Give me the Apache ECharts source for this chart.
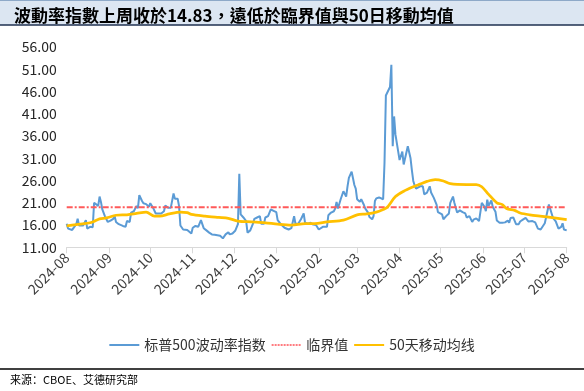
<!DOCTYPE html>
<html>
<head>
<meta charset="utf-8">
<script src="https://cdn.jsdelivr.net/npm/echarts@6/dist/echarts.min.js"></script>
<style>
html,body{margin:0;padding:0;background:#fff;}
#chart{width:584px;height:391px;}
</style>
</head>
<body>
<div id="chart"></div>
<script>
// ---- data ----
const titleText = '波動率指數上周收於14.83，遠低於臨界值與50日移動均值';
const sourceText = '来源：CBOE、艾德研究部';
const seriesNames = ['标普500波动率指数', '临界值', '50天移动均线'];
// x positions: days since 2024-08-01
const monthDays = [0, 31, 61, 92, 122, 153, 184, 212, 243, 273, 304, 334, 365];
const monthLabels = ['2024-08','2024-09','2024-10','2024-11','2024-12','2025-01','2025-02','2025-03','2025-04','2025-05','2025-06','2025-07','2025-08'];
const yTicks = [11, 16, 21, 26, 31, 36, 41, 46, 51, 56];
const criticalValue = 20;

const vixDay = [0,1,4,5,7,8,9,10,12,14,15,17,19,20,21,23,24,25,26,28,30,32,34,35,36,38,41,43,44,46,47,49,51,52,53,55,56,58,60,61,63,65,67,69,71,72,74,76,78,79,81,82,83,85,88,89,91,92,94,96,98,100,102,104,106,108,110,112,114,116,118,119,121,123,125,126,127,129,131,132,134,136,137,139,141,142,144,145,147,149,151,153,154,156,157,159,162,164,166,167,169,171,173,174,176,178,180,182,184,185,187,190,191,193,195,196,197,198,200,201,202,204,205,206,208,209,210,211,212,214,215,217,218,220,221,223,224,225,226,228,229,231,232,233,236,237,238,239,240,243,244,245,246,249,251,252,253,254,255,258,260,261,263,265,266,268,270,271,272,274,275,277,279,280,282,283,285,287,289,291,292,294,296,297,299,301,303,305,306,307,308,310,311,313,314,316,318,320,322,323,324,326,328,330,331,333,335,337,338,340,342,344,346,347,349,350,352,355,356,357,358,359,361,362,363,364,365];
const vixValue = [16.3,15.2,14.9,14.9,16.2,17.4,15.9,16.3,15.9,17.1,15.2,15.6,15.5,21.0,21.4,20.3,22.4,21.2,19.5,17.9,16.7,17.0,17.4,18.0,16.7,16.2,15.8,15.6,16.9,16.7,18.8,19.1,20.3,19.8,22.7,21.4,20.9,20.7,20.1,20.9,19.9,18.6,18.6,18.6,19.1,20.4,19.9,19.9,23.1,21.9,21.9,20.3,15.9,15.0,14.9,15.0,14.1,15.4,15.8,15.6,17.1,15.3,14.8,14.3,13.9,13.8,13.7,13.6,13.0,13.9,14.4,13.9,14.1,14.7,16.2,27.5,18.4,17.7,16.9,14.3,14.8,16.3,17.4,17.7,18.0,16.3,16.3,17.7,18.0,19.5,19.2,18.9,17.1,16.3,16.5,15.4,15.0,15.3,18.0,16.3,16.3,17.3,18.6,16.5,16.3,16.5,16.1,16.0,15.0,15.2,15.6,15.6,18.2,18.8,19.1,19.7,21.2,19.7,21.8,22.7,23.6,22.4,24.7,26.6,28.0,26.5,25.0,24.2,21.8,21.2,21.8,20.5,19.7,18.8,17.8,17.3,18.0,21.4,22.0,22.2,22.1,21.8,30.0,45.1,47.0,52.0,33.7,40.4,36.3,30.6,30.3,32.5,29.6,33.7,31.0,28.3,25.9,24.9,24.2,24.7,24.7,22.9,23.3,24.7,23.3,22.1,20.6,18.9,18.6,18.4,17.3,18.0,18.6,21.0,22.4,21.0,18.8,19.3,18.9,18.6,17.7,18.0,16.7,17.2,17.5,16.9,21.0,20.1,19.1,21.7,20.3,21.5,20.1,19.0,17.0,16.5,16.5,16.6,17.0,16.5,17.6,17.7,16.2,16.2,16.8,17.2,17.6,16.8,16.9,16.9,16.6,15.2,15.0,15.2,16.4,16.0,20.6,17.6,17.9,16.8,16.6,15.2,15.6,16.4,15.0,14.7,14.8];

const maDay = [0,7,15,19,24,29,36,44,51,58,64,68,75,83,88,91,101,111,118,125,135,145,154,164,174,181,190,202,212,219,226,231,234,240,246,253,258,263,269,275,280,292,299,303,308,314,318,321,327,331,338,349,365];
const maValue = [15.8,16.1,16.4,16.7,17.4,17.6,18.2,18.3,18.6,18.9,18.0,18.0,18.5,18.9,18.8,18.4,18.0,17.7,17.5,16.9,16.7,16.5,16.2,16.0,16.3,16.3,16.7,17.1,18.3,18.5,18.9,19.5,20.0,22.4,23.6,24.6,25.2,25.8,26.2,25.9,25.3,25.1,25.1,24.6,22.9,21.0,20.6,19.7,19.3,18.7,18.3,17.9,17.2];

// ---- build ----
const pair = (xs, ys) => xs.map((x, i) => [x, ys[i]]);
const xMin = monthDays[0], xMax = monthDays[monthDays.length - 1];
const FONT = '"Noto Sans CJK SC", "Noto Sans", sans-serif';

// legend icons: solid bar and a dotted bar
const solidIcon = 'path://M0,0h30v2h-30z';
let dotted = 'path://';
for (let i = 0; i < 10; i++) dotted += 'M' + (i * 3) + ',0h2v2h-2z';

const chart = echarts.init(document.getElementById('chart'), null, {renderer: 'canvas'});
chart.setOption({
  animation: false,
  backgroundColor: '#ffffff',
  textStyle: {fontFamily: FONT},
  title: {
    text: titleText,
    left: 9, top: 2,
    textStyle: {fontFamily: '"Noto Sans CJK TC", sans-serif', fontSize: 17, fontWeight: 'bold', color: '#000'}
  },
  graphic: [
    {type: 'rect', z: -10, shape: {x: 0, y: 1, width: 584, height: 24}, style: {fill: '#DCE6F2'}},
    {type: 'line', z: -9, shape: {x1: 0, y1: 0.5, x2: 584, y2: 0.5}, style: {stroke: '#8EA9C8', lineWidth: 1}},
    {type: 'line', z: -9, shape: {x1: 0, y1: 25, x2: 584, y2: 25}, style: {stroke: '#1F3050', lineWidth: 1.5}},
    {type: 'line', shape: {x1: 0, y1: 369, x2: 584, y2: 369}, style: {stroke: '#000', lineWidth: 1.5}},
    {type: 'text', x: 10, y: 380, style: {text: sourceText, fontSize: 11, fontFamily: FONT, fill: '#000', verticalAlign: 'middle'}}
  ],
  legend: {
    data: [
      {name: seriesNames[0], icon: solidIcon},
      {name: seriesNames[1], icon: dotted},
      {name: seriesNames[2], icon: solidIcon}
    ],
    left: 'center', top: 333,
    itemWidth: 30, itemHeight: 2, itemGap: 6,
    textStyle: {fontSize: 14, color: '#333', fontFamily: FONT}
  },
  grid: {left: 66.7, right: 17.3, top: 47, bottom: 143.7, containLabel: false},
  xAxis: {
    type: 'value', min: xMin, max: xMax,
    splitLine: {show: false},
    axisLine: {show: true, lineStyle: {color: '#D9D9D9', width: 1}},
    axisTick: {show: true, customValues: monthDays, length: 6, lineStyle: {color: '#D9D9D9'}},
    axisLabel: {
      customValues: monthDays, rotate: 45, fontSize: 14, color: '#404040', margin: 8,
      formatter: v => monthLabels[monthDays.indexOf(v)]
    }
  },
  yAxis: {
    type: 'value', min: yTicks[0], max: yTicks[yTicks.length - 1],
    axisLine: {show: false}, axisTick: {show: false}, splitLine: {show: false},
    axisLabel: {customValues: yTicks, fontSize: 14, color: '#262626', margin: 10, formatter: v => v.toFixed(2)}
  },
  series: [
    {name: seriesNames[0], type: 'line', data: pair(vixDay, vixValue), symbol: 'none',
     lineStyle: {color: '#5B9BD5', width: 2}, itemStyle: {color: '#5B9BD5'}},
    {name: seriesNames[1], type: 'line', data: [[xMin, criticalValue], [xMax, criticalValue]], symbol: 'none',
     lineStyle: {color: '#FF5A5A', width: 2, type: [6, 2, 2, 2]}, itemStyle: {color: '#FF7C80'}},
    {name: seriesNames[2], type: 'line', data: pair(maDay, maValue), symbol: 'none', smooth: 0.3,
     lineStyle: {color: '#FFC000', width: 2.75}, itemStyle: {color: '#FFC000'}}
  ]
});
</script>
</body>
</html>
